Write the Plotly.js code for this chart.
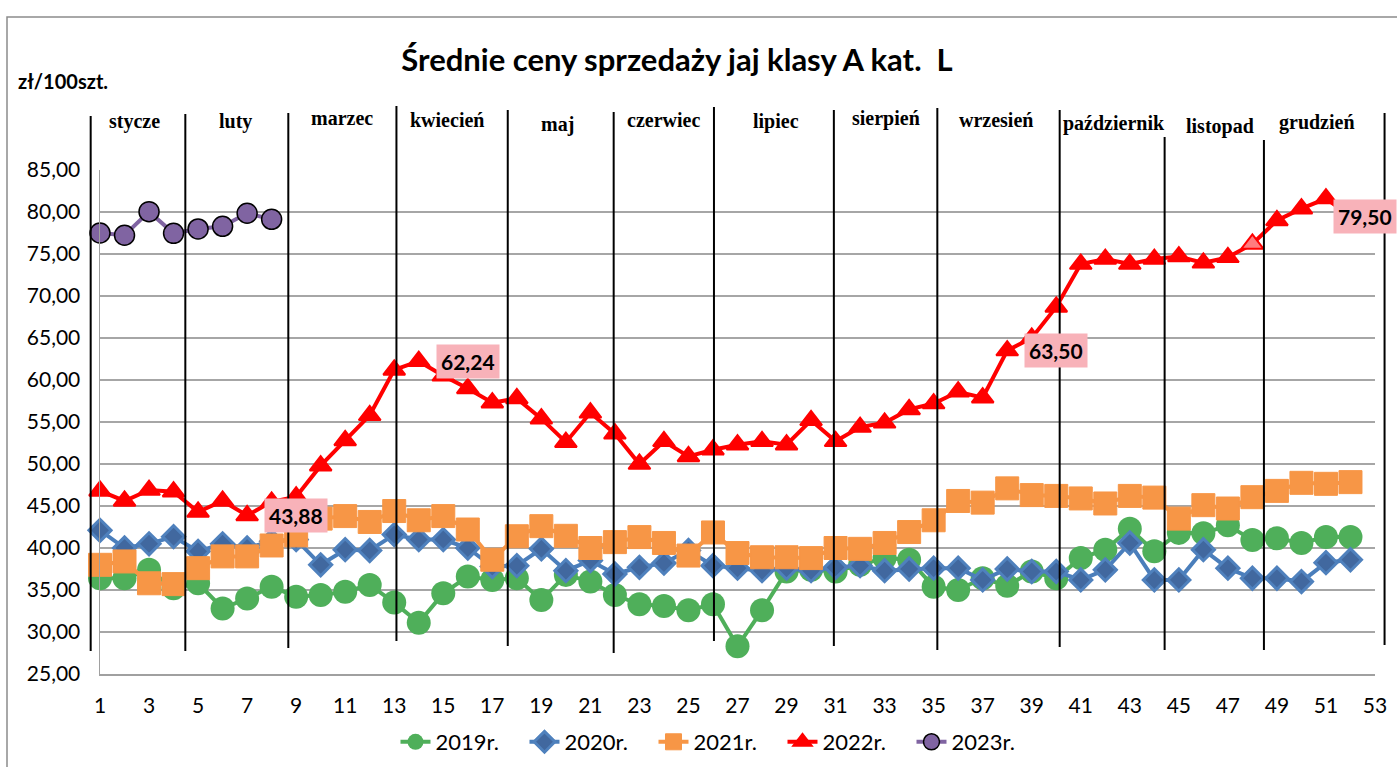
<!DOCTYPE html>
<html><head><meta charset="utf-8">
<script src="https://cdn.plot.ly/plotly-3.0.1.min.js"></script>
<style>html,body{margin:0;padding:0;background:#fff;} #chart{width:1397px;height:767px;}</style>
</head><body><div id="chart"></div>
<script>
// ---- data ----
const weeks = [1,2,3,4,5,6,7,8,9,10,11,12,13,14,15,16,17,18,19,20,21,22,23,24,25,26,27,28,29,30,31,32,33,34,35,36,37,38,39,40,41,42,43,44,45,46,47,48,49,50,51,52];
const y2019 = [36.4,36.4,37.4,35.2,35.8,32.8,34.0,35.4,34.2,34.4,34.8,35.6,33.5,31.1,34.6,36.6,36.2,36.4,33.8,36.8,36.0,34.4,33.3,33.1,32.6,33.3,28.3,32.6,37.2,37.4,37.2,38.0,38.8,38.6,35.4,35.0,36.4,35.5,37.2,36.4,38.8,39.8,42.3,39.6,41.8,41.75,42.7,40.95,41.15,40.6,41.3,41.3];
const y2020 = [42.1,40.0,40.5,41.35,39.6,40.5,40.0,40.8,41.0,38.0,39.8,39.7,41.6,41.0,41.0,40.0,37.8,37.9,39.9,37.3,38.5,36.9,37.7,38.2,39.7,37.9,37.6,37.3,37.6,37.3,37.7,37.9,37.3,37.5,37.6,37.6,36.2,37.5,37.2,37.2,36.2,37.4,40.6,36.2,36.2,39.8,37.6,36.4,36.4,36.0,38.25,38.6];
const y2021 = [38.0,38.4,35.8,35.7,37.6,39.0,39.0,40.3,41.5,43.5,43.8,43.1,44.4,43.3,43.8,42.2,38.6,41.4,42.6,41.45,40.0,40.7,41.3,40.6,39.1,41.85,39.4,38.9,38.9,38.8,40.0,39.9,40.6,41.9,43.3,45.6,45.4,47.1,46.3,46.2,45.9,45.3,46.2,46.0,43.5,45.1,44.7,46.05,46.8,47.76,47.64,47.84];
const y2022 = [46.8,45.6,46.9,46.7,44.3,45.6,43.88,45.5,46.1,49.8,52.8,55.8,61.2,62.24,60.5,59.0,57.3,57.8,55.4,52.6,56.1,53.6,50.0,52.7,50.9,51.7,52.3,52.7,52.3,55.2,52.7,54.4,54.9,56.5,57.2,58.6,57.9,63.5,65.0,68.7,73.8,74.4,73.8,74.4,74.7,73.95,74.6,76.2,79.0,80.4,81.6,79.5];
const weeks2023 = [1,2,3,4,5,6,7,8];
const y2023 = [77.5,77.23,80.04,77.46,77.98,78.3,79.85,79.13];
const seriesNames = ['2019r.','2020r.','2021r.','2022r.','2023r.'];
const monthNames = ['stycze','luty','marzec','kwiecień','maj','czerwiec','lipiec','sierpień','wrzesień','październik','listopad','grudzień'];
const xTickVals = [1,3,5,7,9,11,13,15,17,19,21,23,25,27,29,31,33,35,37,39,41,43,45,47,49,51,53];
const yTickVals = [25,30,35,40,45,50,55,60,65,70,75,80,85];
const labelWeeks2022 = [7,14,38,52];
const chartTitle = 'Średnie ceny sprzedaży jaj klasy A kat.\u00a0 L';
const yUnit = 'zł/100szt.';

// ---- layout helpers (positions, not data) ----
const W = 1397, H = 767;
const M = {l:100, r:22, t:170, b:93, autoexpand:false};
const xRange = [1,53], yRange = [25,85];
const plotW = W - M.l - M.r, plotH = H - M.t - M.b;
const pxToPaperX = px => (px - M.l) / plotW;
const pxToPaperY = py => (H - M.b - py) / plotH;
const weekToPaperX = w => (w - xRange[0]) / (xRange[1] - xRange[0]);
// month separators (in week units) and their vertical extent in px
const sepWeeks = [0.62,4.48,8.68,13.09,17.63,21.95,26.04,30.93,35.15,40.14,44.42,48.47,53.39];
const sepTopPx = [116,114,113,106,110,112,107,110,108,110,137,140,113];
const sepBotPx = [651,651,648,641,646,653,641,646,650,647,650,650,645];
const monthLabelWeek = [2.42,6.54,10.86,15.14,19.67,23.99,28.56,33.05,37.53,42.35,46.67,50.63];
const monthLabelPx = [122,122,118.5,120,124.5,120,122,118.5,120,123.5,126,122.5];

const baseFont = 'Lato, "Noto Sans", sans-serif';

const traces = [
  {x: weeks, y: y2019, name: seriesNames[0], mode:'lines+markers', cliponaxis:false,
   line:{color:'#4faf5a', width:4}, marker:{symbol:'circle', size:24, color:'#4faf5a'}},
  {x: weeks, y: y2020, name: seriesNames[1], mode:'lines+markers', cliponaxis:false,
   line:{color:'#4a7ebb', width:4}, marker:{symbol:'diamond', size:17, color:'#41689f', line:{color:'#4f81bd', width:3}}},
  {x: weeks, y: y2021, name: seriesNames[2], mode:'lines+markers', cliponaxis:false,
   line:{color:'#f79646', width:4}, marker:{symbol:'square', size:23, color:'#f79646', line:{color:'#f79646', width:1}}},
  {x: weeks, y: y2022, name: seriesNames[3], mode:'lines+markers', cliponaxis:false,
   line:{color:'#ff0000', width:4},
   marker:{symbol:'triangle-up', size:19, color: weeks.map(w => w === 48 ? '#ff7c80' : '#ff0000'), line:{color:'#ff0000', width:2}}},
  {x: weeks2023, y: y2023, name: seriesNames[4], mode:'lines+markers', cliponaxis:false,
   line:{color:'#8064a2', width:4}, marker:{symbol:'circle', size:20, color:'#8064a2', line:{color:'#000', width:1.5}}}
];

const shapes = sepWeeks.map((w,i) => ({
  type:'line', xref:'paper', yref:'paper',
  x0: weekToPaperX(w), x1: weekToPaperX(w),
  y0: pxToPaperY(sepTopPx[i]), y1: pxToPaperY(sepBotPx[i]),
  line:{color:'#000', width:2}, layer:'above'
}));
shapes.push({type:'rect', xref:'paper', yref:'paper',
  x0: pxToPaperX(7), x1: pxToPaperX(W+20), y0: pxToPaperY(17), y1: pxToPaperY(H+20),
  line:{color:'#8c8c8c', width:1.5}, fillcolor:'rgba(0,0,0,0)', layer:'below'});

const annotations = monthNames.map((m,i) => ({
  text: '<b>'+m+'</b>', xref:'paper', yref:'paper',
  x: weekToPaperX(monthLabelWeek[i]), y: pxToPaperY(monthLabelPx[i]),
  xanchor:'center', yanchor:'middle', showarrow:false,
  font:{family:'"Liberation Serif", "DejaVu Serif", serif', size:20, color:'#000'}
}));
annotations.push({text:'<b>'+yUnit+'</b>', xref:'paper', yref:'paper',
  x: pxToPaperX(16), y: pxToPaperY(81), xanchor:'left', yanchor:'middle', showarrow:false,
  font:{family: baseFont, size:20, color:'#000'}});
labelWeeks2022.forEach((w, k) => {
  const v = y2022[weeks.indexOf(w)];
  const last = k === labelWeeks2022.length - 1;
  annotations.push({
    text: '<b>'+v.toFixed(2).replace('.', ',')+'</b>', x: w, y: v, xref:'x', yref:'y',
    xanchor: last ? 'center' : 'left', yanchor:'middle', xshift: last ? 15 : 17,
    showarrow:false, bgcolor:'#f8b2b9', borderpad:4,
    font:{family: baseFont, size:21, color:'#000'}
  });
});

const layout = {
  width: W, height: H,
  margin: M,
  paper_bgcolor:'#fff', plot_bgcolor:'#fff',
  separators: ', ',
  font:{family: baseFont, size:21, color:'#000'},
  title:{text:'<b>'+chartTitle+'</b>', x:677/W, xref:'container', xanchor:'center',
         y: 1 - 60/H, yref:'container', yanchor:'middle',
         font:{family: baseFont, size:31, color:'#000'}},
  showlegend:true,
  legend:{orientation:'h', x:0.4847, xanchor:'center', xref:'paper', y: pxToPaperY(742), yanchor:'middle',
          font:{family: baseFont, size:22, color:'#000'}, bgcolor:'rgba(0,0,0,0)',
          entrywidth:84, entrywidthmode:'pixels'},
  xaxis:{range:xRange, tickvals:xTickVals, ticktext:xTickVals.map(String), showgrid:false, zeroline:false,
         showline:true, linecolor:'#a0a0a0', linewidth:2, ticks:'', ticklabelstandoff:12,
         tickfont:{family: baseFont, size:21}},
  yaxis:{range:yRange, tickvals:yTickVals, tickformat:'.2f', showgrid:true, gridcolor:'#a6a6a6', gridwidth:1.5,
         zeroline:false, showline:true, linecolor:'#a0a0a0', linewidth:1.5, ticks:'', ticklabelstandoff:14,
         tickfont:{family: baseFont, size:21}},
  shapes: shapes,
  annotations: annotations
};

Plotly.newPlot('chart', traces, layout, {displayModeBar:false, staticPlot:true});
</script>
</body></html>
